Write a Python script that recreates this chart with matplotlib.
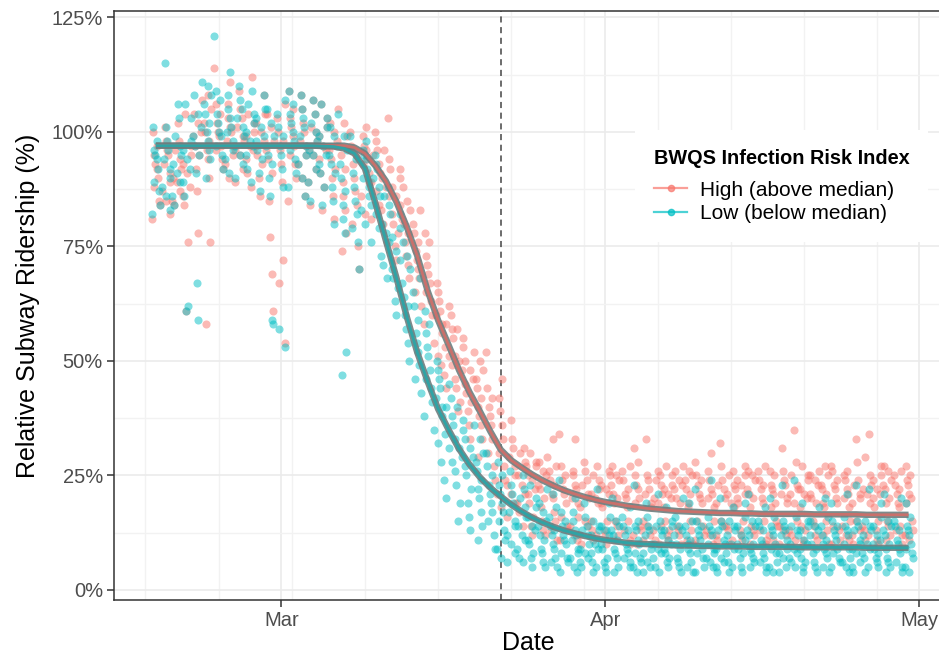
import datetime as dt
import numpy as np
import matplotlib
matplotlib.use('agg')
import matplotlib.pyplot as plt
import matplotlib.dates as mdates
from matplotlib.lines import Line2D

plt.rcParams['font.family'] = ['Liberation Sans', 'DejaVu Sans']

start = dt.date(2020, 2, 18)
dates = [start + dt.timedelta(days=i) for i in range(73)]
pause_date = dt.date(2020, 3, 22)

# relative ridership (%) per day, high-risk zip codes
high_pts = [
    [81, 84, 85, 88, 90, 92, 93, 95, 97, 100],       # Feb 18
    [82, 85, 87, 89, 91, 93, 95, 96, 98, 101],
    [84, 85, 87, 89, 90, 92, 94, 96, 98, 102],
    [61, 76, 84, 86, 88, 91, 93, 95, 97, 104],
    [78, 87, 92, 95, 97, 99, 100, 102, 104, 107],
    [58, 76, 90, 94, 96, 98, 100, 102, 105, 108],
    [92, 94, 96, 97, 99, 100, 102, 104, 106, 114],   # Feb 24
    [90, 93, 95, 97, 98, 100, 101, 103, 106, 111],
    [89, 92, 95, 96, 98, 99, 101, 103, 105, 109],
    [88, 91, 94, 96, 97, 99, 100, 102, 104, 112],
    [86, 90, 93, 95, 97, 98, 100, 102, 104, 108],
    [61, 69, 77, 85, 91, 94, 96, 98, 101, 104],
    [54, 67, 72, 89, 93, 96, 98, 100, 103, 106],     # Mar 1
    [85, 90, 93, 95, 97, 99, 101, 103, 105, 109],
    [86, 90, 93, 95, 97, 98, 100, 102, 105, 108],
    [84, 89, 92, 95, 96, 98, 100, 101, 104, 107],
    [83, 88, 91, 94, 96, 97, 99, 101, 103, 106],
    [81, 86, 90, 92, 94, 96, 98, 100, 102, 105],
    [74, 78, 83, 86, 89, 92, 95, 97, 99, 102],
    [70, 75, 80, 84, 87, 90, 93, 95, 97, 100],       # Mar 8
    [82, 86, 89, 91, 93, 94, 96, 97, 99, 101],
    [81, 84, 87, 89, 91, 93, 95, 96, 98, 100],
    [76, 80, 83, 86, 88, 90, 92, 94, 96, 103],
    [72, 75, 78, 80, 82, 84, 86, 88, 90, 92],
    [68, 71, 73, 76, 78, 80, 81, 83, 85, 88],
    [62, 65, 68, 70, 72, 74, 76, 78, 80, 83],
    [58, 60, 63, 65, 67, 69, 71, 73, 76, 78],        # Mar 15
    [49, 51, 54, 56, 58, 60, 61, 63, 65, 67],
    [44, 47, 49, 51, 53, 55, 57, 58, 60, 62],
    [39, 41, 44, 46, 48, 50, 51, 53, 55, 57],
    [33, 36, 39, 41, 43, 45, 46, 48, 50, 52],
    [29, 33, 36, 38, 40, 42, 44, 46, 48, 50],
    [24, 27, 30, 33, 36, 38, 40, 42, 44, 52],
    [18, 21, 24, 27, 30, 33, 36, 39, 42, 46],        # Mar 22
    [16, 19, 21, 23, 25, 27, 29, 31, 33, 37],
    [14, 17, 19, 21, 23, 25, 27, 28, 30, 31],
    [12, 14, 16, 19, 21, 22, 24, 25, 27, 28, 30],
    [12, 13, 15, 18, 20, 22, 23, 25, 26, 28, 29],
    [11, 13, 15, 17, 20, 21, 23, 24, 26, 27, 33],
    [11, 13, 14, 16, 19, 21, 22, 24, 25, 27, 34],
    [11, 12, 14, 16, 19, 20, 22, 23, 25, 26, 33],    # Mar 29
    [10, 12, 14, 15, 18, 20, 21, 23, 24, 26, 28],
    [11, 12, 13, 15, 19, 20, 21, 22, 24, 25, 27],
    [10, 12, 13, 15, 18, 19, 21, 22, 23, 25, 26],    # Apr 1
    [11, 12, 14, 15, 19, 20, 21, 23, 24, 25, 27],
    [10, 11, 13, 15, 18, 20, 21, 22, 24, 26, 27],
    [10, 12, 13, 14, 19, 20, 22, 23, 25, 28, 31],
    [11, 12, 14, 15, 18, 19, 21, 22, 24, 25, 33],
    [10, 11, 13, 14, 19, 20, 21, 23, 24, 25, 26],
    [11, 12, 13, 15, 18, 20, 21, 22, 23, 25, 27],
    [10, 12, 13, 14, 19, 20, 22, 23, 24, 26, 27],    # Apr 8
    [10, 11, 13, 15, 18, 19, 21, 22, 24, 25, 26],
    [11, 12, 14, 15, 19, 20, 21, 23, 24, 25, 28],
    [10, 12, 13, 15, 18, 20, 21, 22, 24, 26, 30],
    [11, 12, 14, 15, 19, 20, 22, 23, 24, 27, 32],
    [10, 11, 13, 14, 18, 19, 21, 22, 23, 25, 26],
    [11, 12, 13, 15, 19, 20, 21, 23, 24, 25, 27],
    [10, 12, 13, 14, 18, 20, 21, 22, 24, 25, 26],    # Apr 15
    [10, 11, 13, 15, 19, 20, 22, 23, 24, 26, 27],
    [11, 12, 14, 15, 18, 19, 21, 22, 23, 25, 26],
    [10, 12, 13, 14, 19, 20, 21, 23, 24, 26, 31],
    [11, 12, 13, 15, 19, 21, 22, 23, 25, 28, 35],
    [10, 11, 13, 14, 18, 20, 21, 22, 24, 25, 27],
    [11, 12, 14, 15, 19, 20, 21, 23, 24, 25, 26],
    [10, 12, 13, 15, 18, 19, 21, 22, 23, 25, 27],    # Apr 22
    [10, 11, 13, 14, 19, 20, 22, 23, 24, 26, 27],
    [11, 12, 14, 15, 18, 20, 21, 22, 24, 25, 26],
    [10, 12, 13, 15, 19, 20, 21, 23, 24, 28, 33],
    [11, 12, 13, 14, 19, 21, 22, 23, 25, 29, 34],
    [10, 11, 13, 15, 18, 20, 21, 22, 24, 25, 27],
    [11, 12, 14, 15, 19, 20, 22, 23, 24, 26, 27],
    [10, 12, 13, 14, 18, 19, 21, 22, 23, 25, 26],
    [11, 12, 13, 15, 19, 20, 21, 23, 24, 25, 27],    # Apr 30
]

# relative ridership (%) per day, low-risk zip codes
low_pts = [
    [82, 84, 87, 89, 92, 94, 95, 96, 98, 101],       # Feb 18
    [83, 86, 88, 90, 92, 94, 96, 98, 101, 115],
    [84, 86, 89, 91, 93, 95, 97, 99, 103, 106],
    [61, 62, 86, 89, 92, 94, 96, 98, 103, 106],
    [59, 67, 91, 95, 97, 99, 101, 104, 108, 111],
    [90, 94, 96, 98, 100, 102, 104, 106, 108, 110],
    [92, 95, 97, 99, 100, 102, 104, 107, 109, 121],  # Feb 24
    [91, 94, 96, 98, 100, 101, 103, 105, 108, 113],
    [90, 93, 95, 97, 99, 101, 103, 105, 107, 110],
    [89, 92, 95, 97, 98, 100, 102, 104, 106, 109],
    [87, 91, 94, 96, 98, 99, 101, 103, 105, 108],
    [58, 59, 86, 90, 93, 95, 97, 99, 102, 105],
    [53, 57, 88, 92, 95, 97, 99, 101, 104, 107],     # Mar 1
    [88, 91, 94, 96, 98, 100, 102, 104, 106, 109],
    [86, 90, 93, 95, 97, 99, 101, 103, 105, 108],
    [85, 89, 92, 95, 96, 98, 100, 102, 104, 107],
    [84, 88, 91, 93, 95, 97, 99, 101, 103, 106],
    [80, 85, 88, 91, 93, 95, 97, 99, 101, 104],
    [47, 52, 78, 81, 84, 87, 90, 93, 96, 99],
    [70, 76, 79, 82, 85, 88, 91, 94, 96, 99],        # Mar 8
    [80, 83, 86, 88, 90, 92, 94, 95, 96, 98],
    [76, 79, 82, 84, 86, 88, 90, 92, 93, 95],
    [68, 71, 73, 76, 78, 80, 82, 84, 86, 88],
    [60, 63, 66, 68, 70, 72, 74, 77, 79, 82],
    [50, 54, 57, 60, 62, 64, 67, 70, 73, 76],
    [43, 46, 49, 52, 54, 56, 59, 62, 65, 68],
    [38, 41, 44, 46, 48, 51, 53, 56, 58, 61],        # Mar 15
    [28, 32, 35, 38, 40, 42, 44, 46, 48, 50],
    [20, 24, 28, 31, 34, 36, 38, 40, 42, 45],
    [15, 19, 23, 26, 29, 31, 33, 35, 37, 40],
    [13, 16, 19, 22, 25, 27, 29, 31, 33, 36],
    [11, 14, 17, 20, 22, 24, 26, 28, 30, 33],
    [9, 12, 15, 17, 19, 21, 23, 25, 27, 30],
    [7, 9, 11, 13, 15, 17, 19, 21, 23, 25, 28],      # Mar 22
    [6, 8, 10, 12, 14, 15, 17, 19, 21, 23, 26],
    [6, 7, 9, 11, 12, 14, 16, 18, 20, 22, 25],
    [5, 7, 8, 10, 11, 13, 14, 16, 18, 20, 23],
    [5, 6, 8, 9, 11, 12, 14, 15, 17, 19, 22],
    [5, 6, 7, 9, 10, 12, 13, 14, 16, 18, 21],
    [4, 6, 7, 8, 10, 11, 12, 14, 15, 17, 24],
    [4, 5, 7, 8, 9, 11, 12, 13, 15, 17, 20],         # Mar 29
    [5, 6, 7, 8, 9, 10, 12, 13, 14, 16, 19],
    [4, 5, 6, 8, 9, 10, 12, 13, 14, 15, 22],
    [4, 5, 6, 7, 9, 10, 12, 13, 14, 16, 19],         # Apr 1
    [4, 5, 7, 8, 9, 11, 12, 13, 14, 15, 20],
    [5, 6, 7, 8, 9, 10, 12, 13, 14, 16, 18],
    [4, 5, 6, 7, 8, 10, 11, 13, 14, 15, 23],
    [4, 5, 6, 8, 9, 10, 12, 13, 14, 16, 19],
    [4, 5, 7, 8, 9, 10, 12, 13, 14, 15, 21],
    [5, 6, 7, 8, 9, 10, 11, 13, 14, 15, 18],
    [4, 5, 6, 7, 9, 10, 12, 13, 14, 16, 20],         # Apr 8
    [4, 5, 6, 8, 9, 10, 11, 12, 14, 15, 19],
    [4, 5, 7, 8, 9, 11, 12, 13, 14, 15, 22],
    [5, 6, 7, 8, 9, 10, 12, 13, 14, 16, 24],
    [4, 5, 6, 7, 9, 10, 11, 13, 14, 15, 20],
    [4, 5, 6, 8, 9, 10, 12, 13, 14, 15, 18],
    [4, 5, 7, 8, 9, 10, 11, 12, 14, 16, 19],
    [5, 6, 7, 8, 9, 10, 12, 13, 14, 15, 21],         # Apr 15
    [4, 5, 6, 7, 8, 10, 11, 13, 14, 15, 18],
    [4, 5, 6, 8, 9, 10, 12, 13, 14, 16, 20],
    [4, 5, 7, 8, 9, 11, 12, 13, 14, 15, 23],
    [5, 6, 7, 8, 9, 10, 12, 13, 14, 16, 24],
    [4, 5, 6, 7, 9, 10, 11, 13, 14, 15, 19],
    [4, 5, 6, 8, 9, 10, 12, 13, 14, 15, 18],
    [4, 5, 7, 8, 9, 10, 11, 12, 14, 16, 20],         # Apr 22
    [5, 6, 7, 8, 9, 11, 12, 13, 14, 15, 19],
    [4, 5, 6, 7, 9, 10, 12, 13, 14, 16, 21],
    [4, 5, 6, 8, 9, 10, 11, 13, 14, 15, 23],
    [4, 5, 7, 8, 9, 10, 12, 13, 14, 15, 22],
    [5, 6, 7, 8, 9, 10, 11, 12, 14, 16, 19],
    [4, 5, 6, 7, 9, 10, 12, 13, 14, 15, 21],
    [4, 5, 6, 8, 9, 10, 11, 13, 14, 15, 20],
    [4, 5, 7, 8, 9, 10, 12, 13, 14, 16, 19],         # Apr 30
]

# fitted curves, one value per day
fit_high = ([97.0] * 19 +
            [96.6, 95.3, 92.6, 89.3, 84.8, 79.3, 73.0, 65.3, 58.9, 53.5,
             48.0, 43.2, 39.0, 34.6, 30.6, 28.3, 26.7, 25.2, 23.9, 22.8,
             21.8, 21.0, 20.3, 19.7, 19.2, 18.8, 18.4, 18.1, 17.8, 17.6,
             17.4, 17.2, 17.1, 17.0, 16.9, 16.8, 16.8, 16.7, 16.7, 16.6,
             16.6, 16.6, 16.6, 16.6, 16.5, 16.5, 16.5, 16.5, 16.5, 16.4,
             16.4, 16.4, 16.4, 16.4])
fit_low = ([97.0] * 16 +
           [96.9, 96.8, 96.4, 95.3, 92.0, 84.5, 76.3, 68.3, 59.7, 51.9,
            45.5, 39.5, 35.0, 30.8, 27.4, 24.6, 22.3, 20.4, 18.6, 17.1,
            15.8, 14.7, 13.8, 13.0, 12.4, 11.8, 11.3, 10.9, 10.6, 10.3,
            10.1, 10.0, 9.9, 9.8, 9.7, 9.7, 9.6, 9.6, 9.5, 9.5,
            9.5, 9.4, 9.4, 9.4, 9.4, 9.4, 9.3, 9.3, 9.3, 9.3,
            9.3, 9.3, 9.2, 9.2, 9.2, 9.2, 9.2])

labels = ['High (above median)', 'Low (below median)']
colors = ['#F8766D', '#00BFC4']

# horizontal spread of points within a day
jitter = [-0.38, 0.12, -0.2, 0.31, -0.05, 0.4, -0.29, 0.2, 0.02, -0.14, 0.35, -0.42, 0.08]


def scatter_xy(pts):
    xs, ys = [], []
    for i, vals in enumerate(pts):
        d = mdates.date2num(dates[i])
        for j, v in enumerate(vals):
            xs.append(d + jitter[(j * 5 + i * 3) % len(jitter)])
            ys.append(v)
    return np.array(xs), np.array(ys)


fig = plt.figure(figsize=(9.39, 6.56), dpi=100)
ax = fig.add_axes([114 / 939, 56 / 656, 828 / 939, 589 / 656])

xd = mdates.date2num(dates)
for pts, c in zip([high_pts, low_pts], colors):
    x, y = scatter_xy(pts)
    ax.scatter(x, y, s=34, color=c, alpha=0.5, linewidths=0, zorder=3)

for fit, c in zip([fit_high, fit_low], ['#c9706b', '#2fa3a5']):
    ax.plot(xd, fit, color='#6d7e7f', lw=4.6, alpha=0.9, zorder=4,
            solid_capstyle='butt')
    ax.plot(xd, fit, color=c, lw=2.0, zorder=5, solid_capstyle='butt')

ax.axvline(mdates.date2num(pause_date), color='#444444', ls=(0, (4, 3)),
           lw=1.1, zorder=2)

ax.set_xlim(mdates.date2num(dt.date(2020, 2, 14)),
            mdates.date2num(dt.date(2020, 2, 14)) + 79.2)
ax.set_ylim(-2.2, 126.4)

ax.xaxis.set_major_locator(mdates.MonthLocator())
ax.xaxis.set_major_formatter(mdates.DateFormatter('%b'))
ax.xaxis.set_minor_locator(mdates.WeekdayLocator(byweekday=mdates.MO))
ax.set_yticks([0, 25, 50, 75, 100, 125])
ax.set_yticklabels(['0%', '25%', '50%', '75%', '100%', '125%'])
ax.set_yticks([12.5, 37.5, 62.5, 87.5, 112.5], minor=True)

ax.grid(which='major', color='#EBEBEB', lw=1.2, zorder=0)
ax.grid(which='minor', color='#F2F2F2', lw=1.0, zorder=0)
ax.set_axisbelow(True)

ax.tick_params(which='major', length=5, width=1.1, color='#333333',
               labelcolor='#4D4D4D', labelsize=14.5, pad=3)
ax.tick_params(which='minor', length=0)
for sp in ax.spines.values():
    sp.set_color('#333333')
    sp.set_linewidth(1.1)

ax.set_xlabel('Date', fontsize=18, color='black', labelpad=1)
ax.set_ylabel('Relative Subway Ridership (%)', fontsize=18, color='black',
              labelpad=8)

handles = [Line2D([0], [0], color=c, marker='o', markersize=4.5, lw=1.6,
                  alpha=0.7) for c in colors]
leg = ax.legend(handles, labels, title='BWQS Infection Risk Index',
                loc='upper left', bbox_to_anchor=(0.617, 0.815),
                fontsize=15, title_fontproperties={'weight': 'bold', 'size': 14.3},
                frameon=True, facecolor='white', edgecolor='none',
                framealpha=1, handlelength=1.6, handletextpad=0.6,
                labelspacing=0.2, borderpad=0.9, fancybox=False)
leg._legend_box.align = 'left'
leg._legend_box.sep = 9
leg.set_zorder(6)

fig.savefig('out.png', dpi=100)
